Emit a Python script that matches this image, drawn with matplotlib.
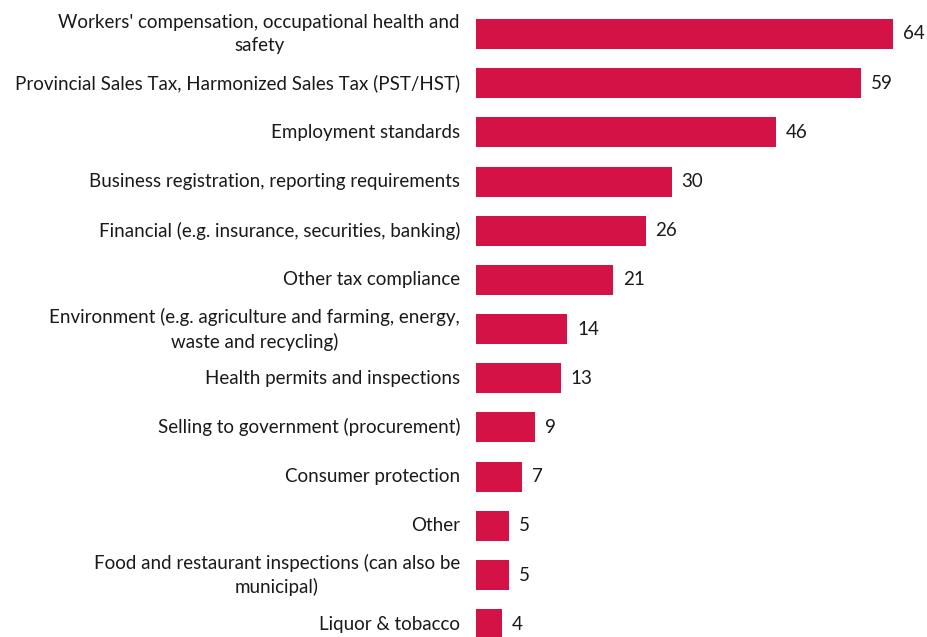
import matplotlib
matplotlib.use("Agg")
import matplotlib.pyplot as plt
import matplotlib.transforms as mtransforms

categories = [
    "Workers' compensation, occupational health and\nsafety",
    "Provincial Sales Tax, Harmonized Sales Tax (PST/HST)",
    "Employment standards",
    "Business registration, reporting requirements",
    "Financial (e.g. insurance, securities, banking)",
    "Other tax compliance",
    "Environment (e.g. agriculture and farming, energy,\nwaste and recycling)",
    "Health permits and inspections",
    "Selling to government (procurement)",
    "Consumer protection",
    "Other",
    "Food and restaurant inspections (can also be\nmunicipal)",
    "Liquor & tobacco",
]
values = [64, 59, 46, 30, 26, 21, 14, 13, 9, 7, 5, 5, 4]

BAR_COLOR = "#D41245"
FONT = ["Lato", "DejaVu Sans"]

fig = plt.figure(figsize=(9.27, 6.37), dpi=100)
W, H = 927, 637
ax = fig.add_axes([476 / W, 0, 450 / W, 1])

pos = list(range(len(values)))
ax.barh(pos, values, height=0.61, color=BAR_COLOR, clip_on=True)
ax.set_xlim(0, 69)
ax.set_ylim(12.26, -0.69)
ax.axis("off")

trans = mtransforms.blended_transform_factory(
    ax.transAxes, ax.transData)
offset = mtransforms.ScaledTranslation(-16 / 100, 0, fig.dpi_scale_trans)
for p, lab in zip(pos, categories):
    ax.text(0, p, lab, transform=trans + offset, ha="right", va="center",
            multialignment="center", fontsize=13.5, color="#1a1a1a",
            family=FONT, linespacing=1.45, clip_on=False)

voff = mtransforms.ScaledTranslation(10 / 100, 0, fig.dpi_scale_trans)
for p, v in zip(pos, values):
    ax.text(v, p, str(v), transform=ax.transData + voff, ha="left",
            va="center", fontsize=13.5, color="#1a1a1a", family=FONT,
            clip_on=False)

fig.savefig("out.png", dpi=100)
